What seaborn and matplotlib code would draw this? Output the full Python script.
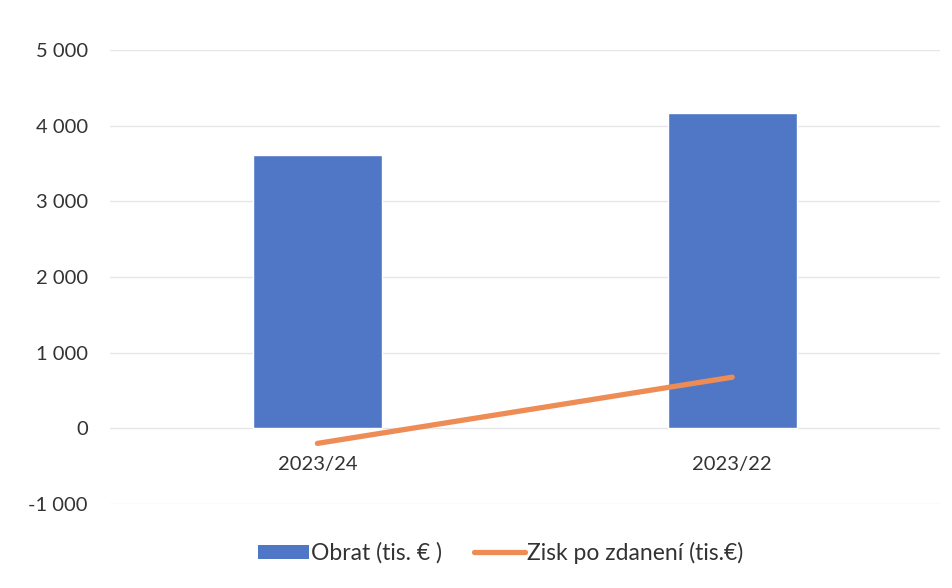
import matplotlib
matplotlib.use("Agg")
import matplotlib.pyplot as plt
import seaborn as sns
import pandas as pd
from matplotlib.ticker import FuncFormatter
from matplotlib.patches import Patch
from matplotlib.lines import Line2D

# data
years = ["2023/24", "2023/22"]
obrat = [3610, 4170]
zisk = [-200, 675]

bar_label = "Obrat (tis. € )"
line_label = "Zisk po zdanení (tis.€)"

bar_color = "#4F77C6"
line_color = "#EE8C55"

df = pd.DataFrame({"rok": years, "obrat": obrat, "zisk": zisk})

sns.set_theme(style="white")
plt.rcParams['font.family'] = ['Lato', 'DejaVu Sans']

fig = plt.figure(figsize=(9.53, 5.88), dpi=100)
ax = fig.add_axes([0.1154, 0.143, 0.8706, 0.772])

sns.barplot(data=df, x="rok", y="obrat", color=bar_color, width=0.31,
            saturation=1, ax=ax, zorder=2)
sns.lineplot(data=df, x="rok", y="zisk", color=line_color, linewidth=3.8,
             ax=ax, zorder=3)

ax.set_ylim(-1000, 5000)
ax.set_yticks(range(-1000, 5001, 1000))
ax.yaxis.set_major_formatter(FuncFormatter(
    lambda v, p: f"{int(v):,}".replace(",", " ")))
ax.set_xlim(-0.5, 1.5)

ax.grid(axis="y", color="#E6E6E6", linewidth=1, zorder=0)
ax.set_axisbelow(True)
for s in ["top", "right", "left"]:
    ax.spines[s].set_visible(False)
# category axis crosses at zero
ax.spines["bottom"].set_position(("data", 0))
ax.spines["bottom"].set_color("none")

ax.tick_params(axis="y", length=0, pad=16, labelsize=14.5, labelcolor="#333333")
ax.tick_params(axis="x", length=0, pad=20, labelsize=14.5, labelcolor="#333333")
ax.set_xlabel("")
ax.set_ylabel("")

handles = [Patch(facecolor=bar_color, edgecolor="none"),
           Line2D([0], [0], color=line_color, linewidth=3.8)]
leg = ax.legend(handles, [bar_label, line_label], loc="center",
                bbox_to_anchor=(0.471, -0.108), ncol=2, frameon=False,
                fontsize=16.5, handlelength=2.2, handleheight=0.55,
                handletextpad=0.1, columnspacing=1.4, labelcolor="#333333")

fig.savefig("out.png", dpi=100)
